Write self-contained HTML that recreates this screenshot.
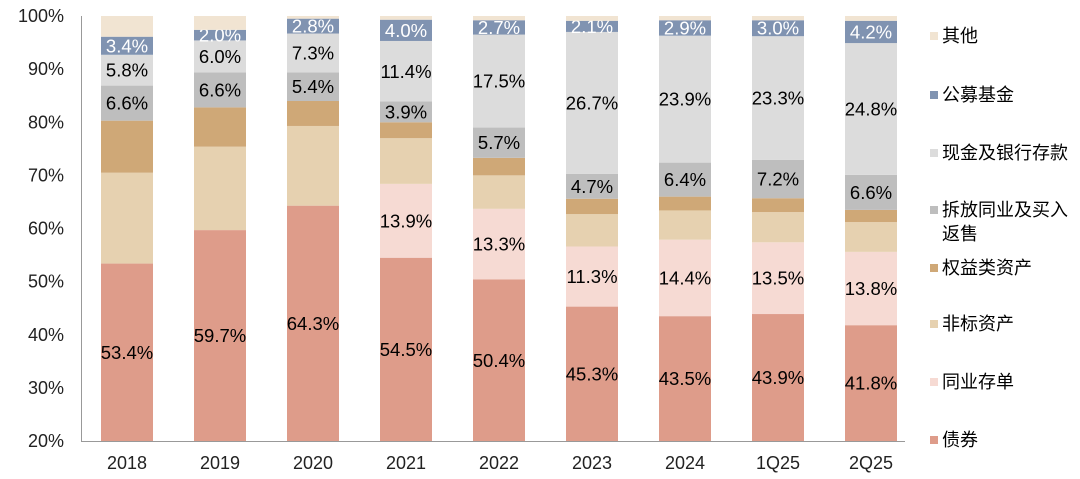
<!DOCTYPE html>
<html><head><meta charset="utf-8"><style>
body{margin:0;background:#fff;width:1080px;height:474px;overflow:hidden;font-family:"Liberation Sans","Noto Sans CJK SC",sans-serif}
svg text{font-family:"Liberation Sans","Noto Sans CJK SC",sans-serif}
</style></head><body>
<svg id="chart" width="1080" height="474" xmlns="http://www.w3.org/2000/svg"></svg>
<script>
const categories=["2018","2019","2020","2021","2022","2023","2024","1Q25","2Q25"];
const bond=[53.4,59.7,64.3,54.5,50.4,45.3,43.5,43.9,41.8];
const cd=[0,0,0,13.9,13.3,11.3,14.4,13.5,13.8];
const nonstd=[17.1,15.7,15.0,8.6,6.3,6.1,5.5,5.7,5.6];
const equity=[9.8,7.4,4.7,3.0,3.3,2.9,2.6,2.6,2.3];
const repo=[6.6,6.6,5.4,3.9,5.7,4.7,6.4,7.2,6.6];
const cash=[5.8,6.0,7.3,11.4,17.5,26.7,23.9,23.3,24.8];
const fund=[3.4,2.0,2.8,4.0,2.7,2.1,2.9,3.0,4.2];
const other=[3.9,2.6,0.5,0.7,0.8,0.9,0.8,0.8,0.9];
const yTicks=[20,30,40,50,60,70,80,90,100];

const series=[
 {name:"债券",key:"bond",vals:bond,color:"#DE9C8A",label:true,tc:"#000"},
 {name:"同业存单",key:"cd",vals:cd,color:"#F6DAD3",label:true,tc:"#000"},
 {name:"非标资产",key:"nonstd",vals:nonstd,color:"#E6D1B0",label:false},
 {name:"权益类资产",key:"equity",vals:equity,color:"#CFA877",label:false},
 {name:"拆放同业及买入返售",key:"repo",vals:repo,color:"#BEBEBE",label:true,tc:"#000"},
 {name:"现金及银行存款",key:"cash",vals:cash,color:"#DCDCDC",label:true,tc:"#000"},
 {name:"公募基金",key:"fund",vals:fund,color:"#8093B1",label:true,tc:"#fff"},
 {name:"其他",key:"other",vals:other,color:"#F1E4D2",label:false}
];
const svg=document.getElementById('chart');
const NS="http://www.w3.org/2000/svg";
const y0=441,y1=16,vmin=20,vmax=100;
const y=v=>y0-(Math.max(v,vmin)-vmin)/(vmax-vmin)*(y0-y1);
const x=i=>127+i*93;
const bw=52;
function mk(t,a){const e=document.createElementNS(NS,t);for(const k in a)e.setAttribute(k,a[k]);svg.appendChild(e);return e;}
yTicks.forEach(t=>{
 const e=mk('text',{x:64,y:y(t)+6,'text-anchor':'end','font-size':18,fill:'#222'});e.textContent=t+'%';
 
 
});
const ax=mk('line',{x1:81,x2:905,y1:y0+0.5,y2:y0+0.5,stroke:'#999','stroke-width':1});


const ay=mk('line',{x1:81.5,x2:81.5,y1:y1,y2:y0,stroke:'#999','stroke-width':1});


categories.forEach((c,i)=>{
 let cum=0;
 series.forEach(s=>{
  const v=s.vals[i];const lo=cum,hi=cum+v;cum=hi;
  if(v<=0)return;
  const top=y(Math.min(hi,100)),bot=y(lo);
  if(bot-top<=0)return;
  const r=mk('rect',{x:x(i)-bw/2,y:top,width:bw,height:bot-top,fill:s.color});
  
  
  if(s.label){
   const mid=y((Math.max(lo,vmin)+Math.min(hi,100))/2);
   const t=mk('text',{x:x(i),y:mid+6.5,'text-anchor':'middle','font-size':18.5,fill:s.tc});
   t.textContent=v.toFixed(1)+'%';
   
   
  }
 });
 const xl=mk('text',{x:x(i),y:469,'text-anchor':'middle','font-size':18,fill:'#222'});
 xl.textContent=c;
 
 
});
const legY=[440,382,324,268,210,153,95,36];
series.forEach((s,k)=>{
 const ly=legY[k];
 const m=mk('rect',{x:930,y:ly-4,width:8,height:8,fill:s.color});
 
 
 const lines=s.name==="拆放同业及买入返售"?["拆放同业及买入","返售"]:[s.name];
 lines.forEach((ln,j)=>{
  const t=mk('text',{x:942,y:ly+6+j*24,'font-size':18,fill:'#000'});
  t.textContent=ln;
  
  
 });
});
</script>
</body></html>
